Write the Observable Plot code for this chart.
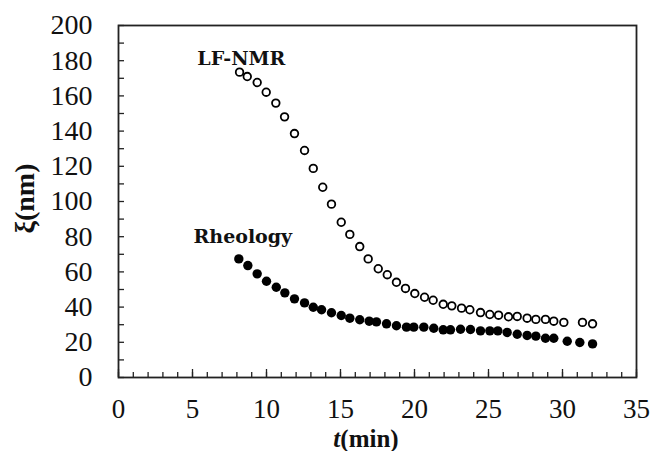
<!DOCTYPE html>
<html>
<head>
<meta charset="utf-8">
<script src="https://cdn.jsdelivr.net/npm/d3@7"></script>
<script src="https://cdn.jsdelivr.net/npm/@observablehq/plot@0.6"></script>
<style>
  html, body { margin: 0; padding: 0; background: #fff; }
  #chart { width: 654px; height: 451px; }
</style>
</head>
<body>
<div id="chart"></div>
<script>
// LF-NMR series (open circles)
const tLF = [8.18, 8.70, 9.37, 9.98, 10.63, 11.22, 11.89, 12.57, 13.16, 13.80, 14.39, 15.05, 15.63, 16.30, 16.87, 17.55, 18.16, 18.78, 19.39, 20.02, 20.68, 21.26, 21.94, 22.52, 23.18, 23.74, 24.46, 25.09, 25.68, 26.35, 26.94, 27.61, 28.20, 28.85, 29.41, 30.09, 31.35, 32.03];
const xiLF = [173.5, 171.0, 167.6, 162.1, 155.9, 148.1, 138.6, 129.0, 118.8, 108.1, 98.5, 88.2, 81.3, 74.4, 67.4, 61.8, 58.4, 54.1, 50.6, 47.7, 45.6, 43.9, 41.6, 40.7, 39.4, 38.5, 36.9, 35.8, 35.4, 34.5, 34.7, 33.7, 33.0, 33.0, 32.0, 31.3, 31.3, 30.5];

// Rheology series (filled circles)
const tRh = [8.13, 8.74, 9.37, 10.00, 10.66, 11.24, 11.89, 12.57, 13.16, 13.72, 14.39, 15.05, 15.63, 16.30, 16.94, 17.43, 18.11, 18.78, 19.46, 19.95, 20.63, 21.30, 21.94, 22.43, 23.11, 23.78, 24.46, 25.09, 25.63, 26.26, 26.94, 27.61, 28.20, 28.85, 29.41, 30.32, 31.17, 32.03];
const xiRh = [67.4, 63.6, 58.9, 54.7, 51.3, 48.1, 44.7, 42.4, 39.9, 38.5, 36.8, 35.2, 33.7, 32.8, 32.0, 31.6, 30.5, 29.4, 28.6, 28.6, 28.6, 28.0, 27.1, 27.1, 27.4, 27.3, 26.5, 26.5, 26.5, 25.6, 24.6, 23.9, 23.5, 22.3, 22.3, 20.6, 19.9, 19.1];

// Series labels and their anchors (data units)
const seriesNames = ["LF-NMR", "Rheology"];
const labelT = [8.3, 8.4];
const labelXi = [181, 80];

// Axis tick labels
const xTicks = [0, 5, 10, 15, 20, 25, 30, 35];
const yTicks = [0, 20, 40, 60, 80, 100, 120, 140, 160, 180, 200];
const xMinor = d3.range(0, 36, 1);
const yMinor = d3.range(0, 201, 10);

const xTitleItalic = "t";
const xTitleRest = "(min)";
const yTitle = "ξ(nm)";

const lf = tLF.map((t, i) => ({t, xi: xiLF[i]}));
const rh = tRh.map((t, i) => ({t, xi: xiRh[i]}));
const labels = seriesNames.map((name, i) => ({name, t: labelT[i], xi: labelXi[i]}));

const W = 654, H = 451, mL = 118, mR = 18, mT = 25, mB = 74;
const innerW = W - mL - mR, innerH = H - mT - mB;

const chart = Plot.plot({
  width: W,
  height: H,
  marginLeft: mL,
  marginRight: mR,
  marginTop: mT,
  marginBottom: mB,
  x: {domain: [0, 35]},
  y: {domain: [0, 200]},
  style: {fontFamily: "'Liberation Serif', 'Times New Roman', serif", fontSize: "28px", background: "#fff", color: "#111"},
  marks: [
    Plot.axisX(xTicks, {tickSize: 0, tickPadding: 21, label: null, fontSize: 27}),
    Plot.axisY(yTicks, {tickSize: 0, tickPadding: 26, label: null, fontSize: 28}),
    Plot.tickX(xMinor, {x: d => d, insetTop: innerH - 5, stroke: "#222", strokeWidth: 1.3}),
    Plot.tickX(xTicks, {x: d => d, insetTop: innerH - 8, stroke: "#222", strokeWidth: 1.3}),
    Plot.tickY(yMinor, {y: d => d, insetRight: innerW - 6, stroke: "#222", strokeWidth: 1.3}),
    Plot.frame({stroke: "#222", strokeWidth: 1.8}),
    Plot.dot(lf, {x: "t", y: "xi", r: 3.8, fill: "#fff", stroke: "#000", strokeWidth: 1.8}),
    Plot.dot(rh, {x: "t", y: "xi", r: 4.7, fill: "#000", stroke: "none"}),
    Plot.text(labels, {x: "t", y: "xi", text: "name", fontFamily: "'DejaVu Serif', serif", fontWeight: "bold", fontSize: 19, fill: "#111"}),
    Plot.text([yTitle], {frameAnchor: "left", textAnchor: "middle", dx: -93, dy: -3, rotate: -90, fontWeight: "bold", fontSize: 28, fill: "#111"})
  ]
});

document.getElementById("chart").appendChild(chart);

const svg = d3.select(chart);
const xt = svg.append("text")
  .attr("x", 366)
  .attr("y", 447)
  .attr("text-anchor", "middle")
  .attr("font-family", "'Liberation Serif', 'Times New Roman', serif")
  .attr("font-size", 25)
  .attr("font-weight", "bold")
  .attr("fill", "#111");
xt.append("tspan").attr("font-style", "italic").text(xTitleItalic);
xt.append("tspan").text(xTitleRest);
</script>
</body>
</html>
